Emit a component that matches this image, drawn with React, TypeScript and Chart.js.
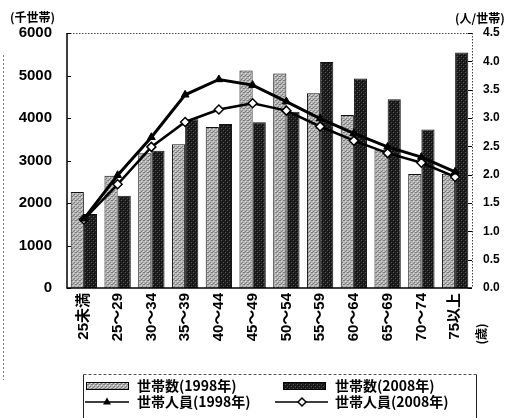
import React, { useEffect, useRef } from "react";
import { Chart, registerables } from "chart.js";

Chart.register(...registerables);

// Age groups of the household head
const ageGroups = ["25未満", "25～29", "30～34", "35～39", "40～44", "45～49", "50～54", "55～59", "60～64", "65～69", "70～74", "75以上"];
// Number of households (thousand households)
const households1998 = [2260, 2640, 3170, 3380, 3790, 5120, 5050, 4580, 4070, 3240, 2680, 2690];
const households2008 = [1740, 2170, 3230, 3970, 3860, 3900, 4150, 5320, 4930, 4440, 3730, 5540];
// Persons per household
const members1998 = [1.22, 1.99, 2.66, 3.41, 3.68, 3.58, 3.29, 2.99, 2.73, 2.49, 2.31, 2.05];
const members2008 = [1.21, 1.83, 2.49, 2.93, 3.15, 3.26, 3.13, 2.85, 2.6, 2.38, 2.21, 1.96];

const leftTicks = [0, 6000, 1000];
const rightTicks = [0, 4.5, 0.5];

const labelHouseholds1998 = "世帯数(1998年)";
const labelHouseholds2008 = "世帯数(2008年)";
const labelMembers1998 = "世帯人員(1998年)";
const labelMembers2008 = "世帯人員(2008年)";

const FONT = "'Liberation Sans', 'Noto Sans CJK JP', sans-serif";
const CJK = "'Noto Sans CJK JP', 'Liberation Sans', sans-serif";

function makePattern(base: string, dots: string[][]): CanvasPattern | string {
  const c = document.createElement("canvas");
  c.width = 4;
  c.height = 4;
  const g = c.getContext("2d");
  if (!g) return base;
  g.fillStyle = base;
  g.fillRect(0, 0, 4, 4);
  for (const [color, ...pts] of dots) {
    g.fillStyle = color;
    for (const p of pts) {
      const [x, y] = p.split(",").map(Number);
      g.fillRect(x, y, 1, 1);
    }
  }
  return g.createPattern(c, "repeat") || base;
}

const framePlugin = {
  id: "frame",
  afterDraw(chart: any) {
    const { ctx, chartArea } = chart;
    const { left, right, top, bottom } = chartArea;
    ctx.save();

    // outer frame line at the far left
    ctx.strokeStyle = "#777";
    ctx.lineWidth = 1;
    ctx.setLineDash([2, 2]);
    ctx.beginPath();
    ctx.moveTo(3.5, 55);
    ctx.lineTo(3.5, 380);
    ctx.stroke();

    // dotted top and right borders of the plot
    ctx.strokeStyle = "#444";
    ctx.setLineDash([1.5, 1.5]);
    ctx.beginPath();
    ctx.moveTo(left, top + 0.5);
    ctx.lineTo(right, top + 0.5);
    ctx.moveTo(right + 0.5, top);
    ctx.lineTo(right + 0.5, bottom);
    ctx.stroke();
    ctx.setLineDash([]);

    // solid left and bottom axes
    ctx.strokeStyle = "#000";
    ctx.lineWidth = 1.5;
    ctx.beginPath();
    ctx.moveTo(left, top);
    ctx.lineTo(left, bottom);
    ctx.lineTo(right, bottom);
    ctx.stroke();

    // inward tick marks
    ctx.lineWidth = 1;
    const y = chart.scales.y;
    const y1 = chart.scales.y1;
    ctx.beginPath();
    y.ticks.forEach((_t: any, i: number) => {
      const py = Math.round(y.getPixelForTick(i)) + 0.5;
      ctx.moveTo(left, py);
      ctx.lineTo(left + 4, py);
    });
    y1.ticks.forEach((_t: any, i: number) => {
      const py = Math.round(y1.getPixelForTick(i)) + 0.5;
      ctx.moveTo(right - 4, py);
      ctx.lineTo(right, py);
    });
    ctx.stroke();

    // axis unit captions
    ctx.fillStyle = "#000";
    ctx.font = `bold 12px ${CJK}`;
    ctx.textBaseline = "middle";
    ctx.textAlign = "left";
    ctx.fillText("(千世帯)", 10, 17);
    ctx.fillText("(人/世帯)", 455, 18);

    ctx.save();
    ctx.translate(481, 334);
    ctx.rotate(-Math.PI / 2);
    ctx.textAlign = "center";
    ctx.fillText("(歳)", 0, 0);
    ctx.restore();

    // legend box
    const ds = chart.data.datasets;
    ctx.strokeStyle = "#222";
    ctx.lineWidth = 1;
    ctx.beginPath();
    ctx.moveTo(83.5, 430);
    ctx.lineTo(83.5, 374.5);
    ctx.moveTo(476.5, 374.5);
    ctx.lineTo(476.5, 430);
    ctx.stroke();
    ctx.setLineDash([3, 2]);
    ctx.strokeStyle = "#555";
    ctx.beginPath();
    ctx.moveTo(83.5, 374.5);
    ctx.lineTo(476.5, 374.5);
    ctx.stroke();
    ctx.setLineDash([]);

    const row1 = 386;
    const row2 = 402;
    ctx.strokeStyle = "#000";
    ctx.fillStyle = ds[0].backgroundColor;
    ctx.fillRect(86, row1 - 3.5, 43, 7);
    ctx.strokeRect(86.5, row1 - 3.5, 42, 7);
    ctx.fillStyle = ds[1].backgroundColor;
    ctx.fillRect(283, row1 - 3.5, 43, 7);
    ctx.strokeRect(283.5, row1 - 3.5, 42, 7);

    ctx.lineWidth = 1.5;
    ctx.beginPath();
    ctx.moveTo(85, row2);
    ctx.lineTo(129, row2);
    ctx.moveTo(275, row2);
    ctx.lineTo(328, row2);
    ctx.stroke();
    // triangle marker
    ctx.fillStyle = "#000";
    ctx.beginPath();
    ctx.moveTo(107, row2 - 4.5);
    ctx.lineTo(111, row2 + 2.5);
    ctx.lineTo(103, row2 + 2.5);
    ctx.closePath();
    ctx.fill();
    // diamond marker
    ctx.fillStyle = "#fff";
    ctx.beginPath();
    ctx.moveTo(302, row2 - 4);
    ctx.lineTo(306, row2);
    ctx.lineTo(302, row2 + 4);
    ctx.lineTo(298, row2);
    ctx.closePath();
    ctx.fill();
    ctx.stroke();

    ctx.fillStyle = "#000";
    ctx.font = `bold 14px ${CJK}`;
    ctx.textAlign = "left";
    ctx.textBaseline = "middle";
    ctx.fillText(labelHouseholds1998, 137, row1);
    ctx.fillText(labelHouseholds2008, 335, row1);
    ctx.fillText(labelMembers1998, 137, row2);
    ctx.fillText(labelMembers2008, 335, row2);

    ctx.restore();
  },
};

export default function App() {
  const ref = useRef<HTMLCanvasElement | null>(null);

  useEffect(() => {
    if (!ref.current) return;
    const light = makePattern("#b4b4b4", [["#7a7a7a", "0,0", "2,2", "3,0", "1,3"], ["#dcdcdc", "1,1", "3,3"]]);
    const dark = makePattern("#1e1e1e", [["#555555", "1,0", "3,2"], ["#0a0a0a", "0,3", "2,1"]]);

    const chart = new Chart(ref.current, {
      type: "bar",
      data: {
        labels: ageGroups,
        datasets: [
          {
            type: "bar",
            label: labelHouseholds1998,
            data: households1998,
            backgroundColor: light as any,
            borderColor: "#111",
            borderWidth: 1,
            yAxisID: "y",
            order: 2,
          },
          {
            type: "bar",
            label: labelHouseholds2008,
            data: households2008,
            backgroundColor: dark as any,
            borderColor: "#111",
            borderWidth: 1,
            yAxisID: "y",
            order: 2,
          },
          {
            type: "line",
            label: labelMembers1998,
            data: members1998,
            borderColor: "#000",
            borderWidth: 3,
            pointStyle: "triangle",
            pointRadius: 4.5,
            pointBackgroundColor: "#000",
            pointBorderColor: "#000",
            pointBorderWidth: 1,
            yAxisID: "y1",
            order: 0,
          },
          {
            type: "line",
            label: labelMembers2008,
            data: members2008,
            borderColor: "#000",
            borderWidth: 2.5,
            pointStyle: "rectRot",
            pointRadius: 4.5,
            pointBackgroundColor: "#fff",
            pointBorderColor: "#000",
            pointBorderWidth: 1.5,
            yAxisID: "y1",
            order: 1,
          },
        ] as any,
      },
      options: {
        responsive: false,
        animation: false,
        devicePixelRatio: 1,
        layout: { padding: { top: 33, left: 0, right: 0, bottom: 0 } },
        datasets: {
          bar: { categoryPercentage: 0.78, barPercentage: 1.0 },
        },
        plugins: {
          legend: { display: false },
          tooltip: { enabled: false },
        },
        scales: {
          x: {
            grid: { display: false, drawTicks: false },
            border: { display: false },
            ticks: {
              color: "#000",
              font: { family: FONT, size: 15, weight: "bold" },
              minRotation: 90,
              maxRotation: 90,
              autoSkip: false,
              padding: 5,
            },
            afterFit: (s: any) => {
              s.height = 130;
            },
          },
          y: {
            position: "left",
            min: leftTicks[0],
            max: leftTicks[1],
            grid: { display: false, drawTicks: false },
            border: { display: false },
            ticks: {
              stepSize: leftTicks[2],
              color: "#000",
              font: { family: FONT, size: 15, weight: "bold" },
              padding: 15,
              callback: (v: any) => String(v),
            },
            afterFit: (s: any) => {
              s.width = 67;
            },
          },
          y1: {
            position: "right",
            min: rightTicks[0],
            max: rightTicks[1],
            grid: { display: false, drawTicks: false },
            border: { display: false },
            ticks: {
              stepSize: rightTicks[2],
              color: "#000",
              font: { family: FONT, size: 12, weight: "bold" },
              padding: 11,
              callback: (v: any) => Number(v).toFixed(1),
            },
            afterFit: (s: any) => {
              s.width = 41;
            },
          },
        },
      } as any,
      plugins: [framePlugin],
    });

    return () => chart.destroy();
  }, []);

  return (
    <div style={{ position: "absolute", left: 0, top: 0, width: 513, height: 418, background: "#fff", overflow: "hidden" }}>
      <canvas ref={ref} width={513} height={418} style={{ display: "block", width: 513, height: 418 }} />
    </div>
  );
}
